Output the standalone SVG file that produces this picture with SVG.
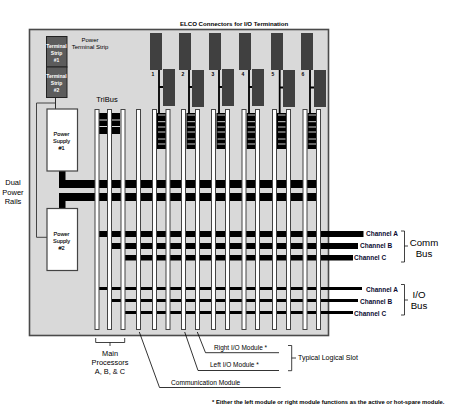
<svg xmlns="http://www.w3.org/2000/svg" width="469" height="414" viewBox="0 0 469 414">
<style>
text{font-family:"Liberation Sans",Arial,sans-serif;fill:#000}
.b{font-weight:bold}
.s{font-size:5.6px;stroke:#000;stroke-width:.1}
.m{text-anchor:middle}
.ch{font-size:6.500px;font-weight:bold;fill:#0a0a30}
.w{fill:#fff;font-weight:bold;font-size:5px;text-anchor:middle}
.dark{fill:#404040}
.slot{fill:#fff;stroke:#444;stroke-width:1}
.bk{fill:#000}
.l{fill:none;stroke:#111;stroke-width:.8}
.lead{fill:none;stroke:#000;stroke-width:.8}
</style>
<rect width="469" height="414" fill="#fff"/>
<g id="chassis"><rect x="29.500" y="29.500" width="299" height="306" fill="#d9d9d9" stroke="#4a4a4a" stroke-width="1.600"/></g>
<g id="connectors">
<path class="lead" d="M55.500 97V109"/>
<path d="M55 103H36.500V237.300H47" fill="none" stroke="#444" stroke-width="1"/>
<rect class="bk" x="59" y="171" width="6.500" height="17"/>
<rect class="bk" x="59" y="193" width="6.500" height="16"/>
<rect class="bk" x="59" y="180" width="258" height="8"/>
<rect class="bk" x="59" y="193" width="258" height="8"/>
<rect class="bk" x="99" y="231" width="264.500" height="6"/>
<rect class="bk" x="112" y="243" width="246" height="6"/>
<rect class="bk" x="125" y="255" width="228" height="5.500"/>
<rect class="bk" x="99" y="287" width="263" height="3"/>
<rect class="bk" x="112" y="299" width="246" height="3"/>
<rect class="bk" x="125" y="311" width="228" height="3"/>
<rect class="bk" x="99" y="113" width="21" height="21"/>
<path d="M99 120H120M99 126.500H120" stroke="#d9d9d9" stroke-width="1"/>
<g id="ioblocks">
<g id="b1"><rect class="bk" x="157" y="113" width="9" height="36"/><path d="M158 115H165.500M158 121.700H165.500M158 127H165.500M158 132H165.500M158 139H165.500M158 144H165.500" stroke="#fff" stroke-width=".8"/></g>
<use href="#b1" x="29.500"/><use href="#b1" x="59.500"/><use href="#b1" x="89.700"/><use href="#b1" x="120"/><use href="#b1" x="150.500"/>
</g>
<path d="M159 70V114M159 87H163M189 70V114M189 87H192M219 70V114M219 87H222M249 70V114M249 87H252M279.700 70V114M279.700 87.500H283M310 70V114M310 87.500H314" fill="none" stroke="#000" stroke-width="1.800"/>
<path class="l" d="M401 231H404.500V262H401M404.500 246H408"/>
<path class="l" d="M401 284.500H404.500V315H401M404.500 300H408"/>
<path class="l" d="M95.700 338V342.500H124.700V338M110 342.500V346"/>
<path class="lead" d="M139.300 332L159.500 387.500H280.700"/>
<path class="lead" d="M184.700 332L198 370.500H279"/>
<path class="lead" d="M197.300 332L205.500 352.700H279"/>
<path class="l" d="M288 345.500H291.700V370.700H288M291.700 358H296"/>
</g>
<g id="slots">
<rect class="slot" x="95" y="109.500" width="4" height="220"/>
<rect class="slot" x="107.500" y="109.500" width="4" height="220"/>
<rect class="slot" x="121" y="109.500" width="4" height="220"/>
<rect class="slot" x="136.500" y="109.500" width="4" height="220"/>
<rect class="slot" x="152.500" y="109.500" width="4" height="220"/>
<rect class="slot" x="166" y="109.500" width="4" height="220"/>
<rect class="slot" x="181.500" y="109.500" width="4" height="220"/>
<rect class="slot" x="195.500" y="109.500" width="4" height="220"/>
<rect class="slot" x="211.500" y="109.500" width="4" height="220"/>
<rect class="slot" x="225.500" y="109.500" width="4" height="220"/>
<rect class="slot" x="242" y="109.500" width="4" height="220"/>
<rect class="slot" x="255.500" y="109.500" width="4" height="220"/>
<rect class="slot" x="272.500" y="109.500" width="4" height="220"/>
<rect class="slot" x="286.500" y="109.500" width="4" height="220"/>
<rect class="slot" x="303" y="109.500" width="4" height="220"/>
<rect class="slot" x="316.500" y="109.500" width="4" height="220"/>
</g>
<g id="terminal-strip-1"><rect x="46.500" y="36.500" width="20.500" height="30.500" fill="#5c5c5c" stroke="#222" stroke-width="1"/>
<text class="w" x="56.500" y="48">Terminal</text><text class="w" x="56.500" y="55">Strip</text><text class="w" x="56.500" y="62">#1</text></g>
<g id="terminal-strip-2"><rect x="46.500" y="67" width="20.500" height="30.500" fill="#5c5c5c" stroke="#222" stroke-width="1"/>
<text class="w" x="56.500" y="78">Terminal</text><text class="w" x="56.500" y="85">Strip</text><text class="w" x="56.500" y="92">#2</text></g>
<g id="power-supply-1"><rect x="47" y="109" width="30.500" height="62" fill="#fff" stroke="#444" stroke-width="1.200"/>
<text class="s m" x="61.500" y="135.500">Power</text><text class="s m" x="61.500" y="142.500">Supply</text><text class="s m" x="61.500" y="149.500">#1</text></g>
<g id="power-supply-2"><rect x="47" y="208.500" width="30.500" height="62" fill="#fff" stroke="#444" stroke-width="1.200"/>
<text class="s m" x="61.500" y="235.500">Power</text><text class="s m" x="61.500" y="242.500">Supply</text><text class="s m" x="61.500" y="250">#2</text></g>
<g id="elco-connectors">
<rect class="dark" x="150" y="33" width="12" height="37"/><rect class="dark" x="163" y="69" width="12" height="37"/>
<rect class="dark" x="179" y="33" width="12" height="37"/><rect class="dark" x="192" y="70" width="12" height="37"/>
<rect class="dark" x="209" y="33" width="12" height="37"/><rect class="dark" x="222" y="69" width="12" height="37"/>
<rect class="dark" x="239" y="33" width="12" height="37"/><rect class="dark" x="252" y="69" width="12" height="37"/>
<rect class="dark" x="271" y="33" width="12" height="37"/><rect class="dark" x="283" y="70" width="12" height="37"/>
<rect class="dark" x="301" y="33" width="12" height="37"/><rect class="dark" x="314" y="70" width="12" height="37"/>
<text class="b m" font-size="5" x="153" y="76">1</text><text class="b m" font-size="5" x="183" y="76">2</text><text class="b m" font-size="5" x="213" y="76">3</text><text class="b m" font-size="5" x="243" y="76">4</text><text class="b m" font-size="5" x="273" y="76">5</text><text class="b m" font-size="5" x="303" y="76">6</text>
</g>
<g id="labels">
<text class="b" font-size="6.100" x="180" y="25.500">ELCO Connectors for I/O Termination</text>
<text class="m" font-size="6" x="90" y="41.500">Power</text>
<text class="m" font-size="6" x="90" y="48.700">Terminal Strip</text>
<text font-size="7.500" x="96.300" y="101.500">TriBus</text>
<text class="m" font-size="7.500" x="13" y="184.500">Dual</text>
<text class="m" font-size="7.500" x="13" y="194.500">Power</text>
<text class="m" font-size="7.500" x="13" y="203.700">Rails</text>
<text class="ch" x="366" y="235.500">Channel A</text>
<text class="ch" x="360" y="247.500">Channel B</text>
<text class="ch" x="354" y="259.500">Channel C</text>
<text class="ch" x="366" y="291.500">Channel A</text>
<text class="ch" x="360" y="303.500">Channel B</text>
<text class="ch" x="354" y="315.500">Channel C</text>
<text class="m" font-size="9.700" x="424" y="245.500">Comm</text>
<text class="m" font-size="9.700" x="424" y="256.500">Bus</text>
<text class="m" font-size="9.700" x="419" y="297.500">I/O</text>
<text class="m" font-size="9.700" x="419" y="308.500">Bus</text>
<text class="m" font-size="7.400" x="110" y="355.700">Main</text>
<text class="m" font-size="7.400" x="110" y="364.700">Processors</text>
<text class="m" font-size="7.400" x="110" y="373.700">A, B, &amp; C</text>
<text font-size="6.500" x="214" y="350">Right I/O Module  *</text>
<text font-size="6.500" x="210" y="367">Left I/O Module  *</text>
<text font-size="6.600" x="171" y="385">Communication Module</text>
<text font-size="7" x="298" y="360.300">Typical Logical Slot</text>
<text class="b" font-size="5.850" x="212" y="404.300">* Either the left module or right module functions as the active or hot-spare module.</text>
</g>
</svg>
